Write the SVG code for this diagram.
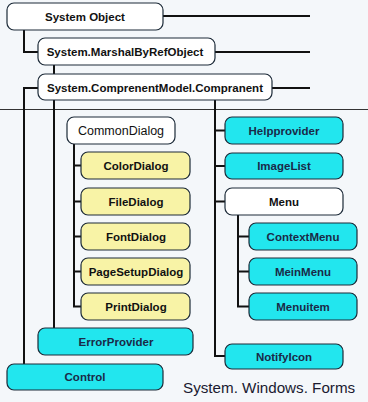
<svg xmlns="http://www.w3.org/2000/svg" width="368" height="402" viewBox="0 0 368 402">
<style>
.bg{fill:#f4f7fa}
.box{stroke:#1c2a38;stroke-width:1.2}
.w{fill:#ffffff}
.c{fill:#22e6ee}
.y{fill:#f8f3a6}
.t{font-family:"Liberation Sans",Arial,sans-serif;font-size:11.5px;font-weight:bold;text-anchor:middle;fill:#111}
.tc{fill:#1a2a48}
.tr{font-weight:normal;font-size:12.5px}
.ln{stroke:#111;stroke-width:2;fill:none}
.sep{stroke:#333;stroke-width:1;fill:none}
.title{font-family:"Liberation Sans",Arial,sans-serif;font-size:15.2px;fill:#1a1a30}
</style>
<rect class="bg" x="0" y="0" width="368" height="402"/>
<g id="connectors">
<line class="sep" x1="0" y1="109.5" x2="368" y2="109.5"/>
<path class="ln" d="M163 16H310"/>
<path class="ln" d="M215 52H310"/>
<path class="ln" d="M272 88H310"/>
<path class="ln" d="M24 30V52H38"/>
<path class="ln" d="M38 88H24V364"/>
<path class="ln" d="M54 65V74"/>
<path class="ln" d="M54 100V328"/>
<path class="ln" d="M74 144V306.5H81M74 165.5H81M74 201.5H81M74 236.5H81M74 271.5H81"/>
<path class="ln" d="M215 100V356H225M215 130.5H225M215 166H225M215 201.5H225"/>
<path class="ln" d="M238 215V306.5H249M238 236.5H249M238 271.5H249"/>
</g>
<g id="systemObject"><rect class="box w" x="7" y="3" width="156" height="27" rx="7"/><text class="t" x="85" y="20.5">System Object</text></g>
<g id="marshal"><rect class="box w" x="38" y="38" width="177" height="27" rx="7"/><text class="t" x="125" y="55.5">System.MarshalByRefObject</text></g>
<g id="component"><rect class="box w" x="38" y="74" width="234" height="26" rx="7"/><text class="t" x="155" y="91.5">System.ComprenentModel.Compranent</text></g>
<g id="commonDialog"><rect class="box w" x="67" y="117" width="108" height="27" rx="7"/><text class="t tr" x="121" y="135">CommonDialog</text></g>
<g id="colorDialog"><rect class="box y" x="81" y="152" width="109" height="27" rx="7"/><text class="t" x="136" y="169.5">ColorDialog</text></g>
<g id="fileDialog"><rect class="box y" x="81" y="188" width="109" height="27" rx="7"/><text class="t" x="136" y="205.5">FileDialog</text></g>
<g id="fontDialog"><rect class="box y" x="81" y="223" width="109" height="27" rx="7"/><text class="t" x="136" y="240.5">FontDialog</text></g>
<g id="pageSetupDialog"><rect class="box y" x="81" y="258" width="109" height="27" rx="7"/><text class="t" x="136" y="275.5">PageSetupDialog</text></g>
<g id="printDialog"><rect class="box y" x="81" y="293" width="109" height="27" rx="7"/><text class="t" x="136" y="310.5">PrintDialog</text></g>
<g id="errorProvider"><rect class="box c" x="38" y="328" width="155" height="27" rx="7"/><text class="t tc" x="116" y="345.5">ErrorProvider</text></g>
<g id="control"><rect class="box c" x="7" y="364" width="156" height="26" rx="7"/><text class="t tc" x="85" y="381">Control</text></g>
<g id="helpProvider"><rect class="box c" x="225" y="117" width="118" height="27" rx="7"/><text class="t tc" x="284" y="134.5">Helpprovider</text></g>
<g id="imageList"><rect class="box c" x="225" y="153" width="118" height="26" rx="7"/><text class="t tc" x="284" y="170">ImageList</text></g>
<g id="menu"><rect class="box w" x="225" y="188" width="118" height="27" rx="7"/><text class="t" x="284" y="205.5">Menu</text></g>
<g id="contextMenu"><rect class="box c" x="249" y="223" width="108" height="27" rx="7"/><text class="t tc" x="303" y="240.5">ContextMenu</text></g>
<g id="mainMenu"><rect class="box c" x="249" y="258" width="108" height="27" rx="7"/><text class="t tc" x="303" y="275.5">MeinMenu</text></g>
<g id="menuItem"><rect class="box c" x="249" y="293" width="108" height="27" rx="7"/><text class="t tc" x="303" y="310.5">Menuitem</text></g>
<g id="notifyIcon"><rect class="box c" x="225" y="344" width="118" height="25" rx="7"/><text class="t tc" x="284" y="360.5">NotifyIcon</text></g>
<text class="title" x="183" y="393">System. Windows. Forms</text>
</svg>
